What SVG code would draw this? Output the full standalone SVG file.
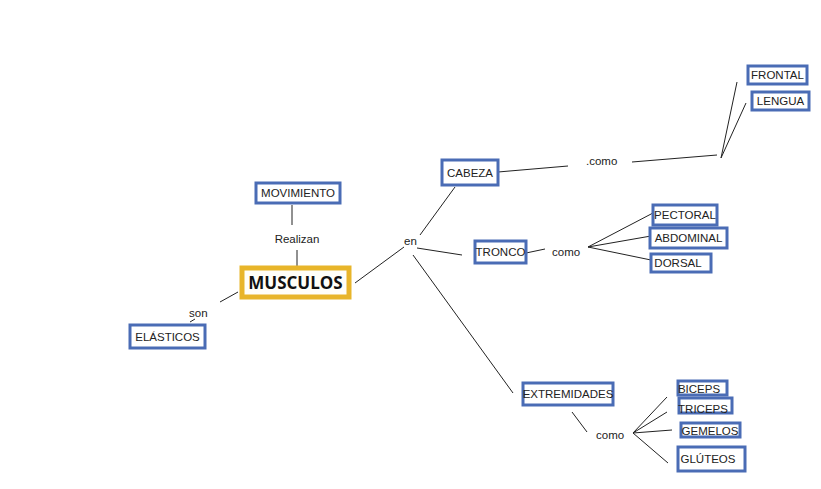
<svg xmlns="http://www.w3.org/2000/svg" width="821" height="489" viewBox="0 0 821 489">
<style>
.n{fill:#fff;stroke:#4a6cb5;stroke-width:3}
.t{font-family:"Liberation Sans",Arial,sans-serif;font-size:11.5px;fill:#222;text-anchor:middle}
.l{font-family:"Liberation Sans",Arial,sans-serif;font-size:11.5px;fill:#222}
.c{stroke:#222;stroke-width:1;fill:none}
</style>
<rect width="821" height="489" fill="#fff"/>
<g id="connectors">
<line class="c" x1="292" y1="205" x2="292" y2="225"/>
<line class="c" x1="297" y1="250" x2="297" y2="267"/>
<line class="c" x1="355" y1="283" x2="404" y2="247"/>
<line class="c" x1="238" y1="292" x2="220" y2="302"/>
<line class="c" x1="190" y1="322" x2="195" y2="319"/>
<line class="c" x1="420" y1="235" x2="455" y2="187"/>
<line class="c" x1="417" y1="248" x2="462" y2="255"/>
<line class="c" x1="413" y1="255" x2="513" y2="393"/>
<line class="c" x1="498" y1="172" x2="568" y2="166"/>
<line class="c" x1="632" y1="162" x2="717" y2="155"/>
<line class="c" x1="737" y1="82" x2="721" y2="158"/>
<line class="c" x1="746" y1="103" x2="721" y2="158"/>
<line class="c" x1="526" y1="253" x2="545" y2="249"/>
<line class="c" x1="588" y1="247" x2="653" y2="213"/>
<line class="c" x1="588" y1="247" x2="651" y2="236"/>
<line class="c" x1="588" y1="247" x2="651" y2="260"/>
<line class="c" x1="572" y1="412" x2="587" y2="432"/>
<line class="c" x1="633" y1="433" x2="667" y2="397"/>
<line class="c" x1="633" y1="433" x2="667" y2="412"/>
<line class="c" x1="633" y1="433" x2="672" y2="430"/>
<line class="c" x1="633" y1="433" x2="668" y2="463"/>
<text class="t" x="297" y="243">Realizan</text>
<text class="l" x="404" y="245">en</text>
<text class="l" x="189" y="317">son</text>
<text class="l" x="586" y="165">.como</text>
<text class="l" x="552" y="256">como</text>
<text class="l" x="596" y="439">como</text>
</g>
<g id="musculos">
<rect x="242" y="268" width="107" height="29" fill="#fffef8" stroke="#e8b52a" stroke-width="5"/>
<text x="295.500" y="289" font-family="'Open Sans','Liberation Sans',sans-serif" font-size="17" font-weight="bold" fill="#111" text-anchor="middle">MUSCULOS</text>
</g>
<g id="movimiento"><rect class="n" x="256" y="183" width="84" height="20"/><text class="t" x="298" y="197">MOVIMIENTO</text></g>
<g id="elasticos"><rect class="n" x="130" y="325" width="75" height="23"/><text class="t" x="167.500" y="341">ELÁSTICOS</text></g>
<g id="cabeza"><rect class="n" x="442" y="160" width="56" height="25"/><text class="t" x="470" y="177">CABEZA</text></g>
<g id="tronco"><rect class="n" x="475" y="241" width="51" height="22"/><text class="t" x="500.500" y="256">TRONCO</text></g>
<g id="extremidades"><rect class="n" x="523" y="383" width="90" height="22"/><text class="t" x="568" y="398">EXTREMIDADES</text></g>
<g id="frontal"><rect class="n" x="748" y="66" width="59" height="18"/><text class="t" x="777.500" y="79">FRONTAL</text></g>
<g id="lengua"><rect class="n" x="752" y="92" width="57" height="18"/><text class="t" x="780.500" y="105">LENGUA</text></g>
<g id="pectoral"><rect class="n" x="653" y="205" width="64" height="20"/><text class="t" x="685" y="219">PECTORAL</text></g>
<g id="abdominal"><rect class="n" x="650" y="228" width="77" height="20"/><text class="t" x="688.500" y="242">ABDOMINAL</text></g>
<g id="dorsal"><rect class="n" x="651" y="254" width="60" height="18"/><text class="t" x="678" y="267">DORSAL</text></g>
<g id="biceps"><rect class="n" x="678" y="381" width="49" height="14"/><text class="t" x="699" y="392.500">BICEPS</text></g>
<g id="triceps"><rect class="n" x="679" y="398" width="53" height="15"/><text class="t" x="703" y="413">TRICEPS</text></g>
<g id="gemelos"><rect class="n" x="681" y="423" width="59" height="14"/><text class="t" x="710" y="434.500">GEMELOS</text></g>
<g id="gluteos"><rect class="n" x="678" y="447" width="67" height="24"/><text class="t" x="708" y="463">GLÚTEOS</text></g>
</svg>
